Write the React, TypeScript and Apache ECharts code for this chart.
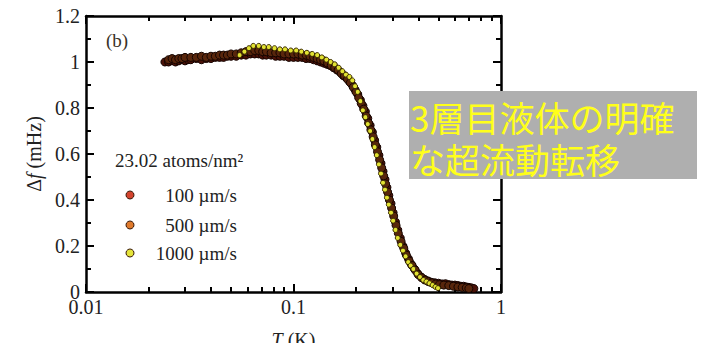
import React, { useEffect, useRef } from "react";
import * as echarts from "echarts";

// ---- data (T in K, Δf in mHz) ----
const series100: [number, number][] = [
  [0.024, 1.0], [0.025, 1.0], [0.026, 1.005], [0.027, 1.0], [0.028, 1.005], [0.029, 1.01], [0.030, 1.005],
  [0.031, 1.01], [0.032, 1.01], [0.034, 1.015], [0.036, 1.01], [0.038, 1.015], [0.040, 1.015], [0.042, 1.02],
  [0.044, 1.02], [0.046, 1.02], [0.048, 1.025], [0.050, 1.025], [0.053, 1.025], [0.056, 1.03], [0.059, 1.03],
  [0.062, 1.035], [0.065, 1.035], [0.068, 1.035], [0.071, 1.03], [0.074, 1.03], [0.078, 1.03], [0.082, 1.025],
  [0.086, 1.025], [0.090, 1.025], [0.095, 1.02], [0.100, 1.02], [0.105, 1.02], [0.110, 1.02], [0.115, 1.015],
  [0.120, 1.015], [0.125, 1.01], [0.130, 1.005], [0.135, 1.0], [0.140, 0.995], [0.145, 0.99], [0.150, 0.985],
  [0.156, 0.975], [0.162, 0.965], [0.168, 0.955], [0.174, 0.94], [0.180, 0.93], [0.186, 0.915], [0.192, 0.9],
  [0.198, 0.88], [0.204, 0.86], [0.210, 0.835], [0.216, 0.81], [0.222, 0.785], [0.228, 0.755], [0.234, 0.725],
  [0.240, 0.695], [0.246, 0.66], [0.252, 0.63], [0.258, 0.595], [0.264, 0.56], [0.270, 0.525], [0.276, 0.49],
  [0.282, 0.455], [0.288, 0.42], [0.295, 0.385], [0.302, 0.345], [0.310, 0.305], [0.318, 0.27], [0.327, 0.235],
  [0.337, 0.2], [0.347, 0.17], [0.358, 0.145], [0.370, 0.12], [0.383, 0.1], [0.397, 0.08], [0.412, 0.065],
  [0.428, 0.055], [0.445, 0.048], [0.462, 0.042], [0.480, 0.04], [0.50, 0.038], [0.52, 0.035], [0.54, 0.036],
  [0.56, 0.032], [0.58, 0.03], [0.60, 0.03], [0.62, 0.028], [0.64, 0.025], [0.66, 0.025], [0.68, 0.022],
  [0.70, 0.02], [0.72, 0.018], [0.74, 0.015],
];

const series500: [number, number][] = [
  [0.025, 1.01], [0.026, 1.015], [0.027, 1.01], [0.028, 1.015], [0.029, 1.015], [0.030, 1.02], [0.032, 1.02],
  [0.034, 1.02], [0.036, 1.025], [0.038, 1.02], [0.040, 1.025], [0.042, 1.025], [0.044, 1.03], [0.046, 1.03],
  [0.048, 1.03], [0.050, 1.035], [0.053, 1.035], [0.056, 1.04], [0.059, 1.045], [0.062, 1.045], [0.065, 1.05],
  [0.068, 1.05], [0.071, 1.045], [0.074, 1.045], [0.078, 1.04], [0.082, 1.04], [0.086, 1.04], [0.090, 1.035],
  [0.095, 1.035], [0.100, 1.035], [0.105, 1.035], [0.110, 1.03], [0.115, 1.03], [0.120, 1.025], [0.125, 1.02],
  [0.130, 1.015], [0.135, 1.01], [0.140, 1.005], [0.146, 0.995], [0.152, 0.985], [0.158, 0.975], [0.164, 0.965],
  [0.170, 0.95], [0.176, 0.94], [0.182, 0.925], [0.188, 0.91], [0.194, 0.89], [0.200, 0.87], [0.206, 0.845],
  [0.212, 0.82], [0.218, 0.795], [0.224, 0.765], [0.230, 0.735], [0.236, 0.705], [0.242, 0.675], [0.248, 0.64],
  [0.254, 0.61], [0.260, 0.575], [0.266, 0.54], [0.272, 0.505], [0.278, 0.47], [0.284, 0.435], [0.290, 0.4],
  [0.297, 0.365], [0.304, 0.33], [0.312, 0.29], [0.320, 0.255], [0.330, 0.22], [0.340, 0.19], [0.350, 0.16],
  [0.361, 0.135], [0.373, 0.115], [0.386, 0.095], [0.400, 0.075], [0.415, 0.062], [0.430, 0.052], [0.447, 0.045],
  [0.465, 0.04], [0.485, 0.035], [0.505, 0.032], [0.53, 0.03], [0.56, 0.028], [0.59, 0.025], [0.62, 0.022],
  [0.65, 0.02], [0.68, 0.018], [0.70, 0.015],
];

const series1000: [number, number][] = [
  [0.055, 1.03], [0.058, 1.045], [0.061, 1.06], [0.064, 1.07], [0.068, 1.07], [0.072, 1.065], [0.076, 1.065],
  [0.081, 1.06], [0.086, 1.055], [0.091, 1.055], [0.097, 1.05], [0.103, 1.05], [0.109, 1.045], [0.116, 1.04],
  [0.123, 1.035], [0.130, 1.03], [0.137, 1.02], [0.144, 1.01], [0.151, 1.0], [0.158, 0.99], [0.165, 0.975],
  [0.172, 0.96], [0.179, 0.945], [0.186, 0.935], [0.192, 0.92], [0.198, 0.895], [0.204, 0.87], [0.210, 0.83],
  [0.216, 0.79], [0.222, 0.76], [0.228, 0.73], [0.234, 0.7], [0.240, 0.665], [0.246, 0.63], [0.252, 0.595],
  [0.258, 0.555], [0.264, 0.515], [0.270, 0.475], [0.276, 0.445], [0.282, 0.41], [0.288, 0.38], [0.295, 0.345],
  [0.302, 0.31], [0.310, 0.27], [0.318, 0.235], [0.327, 0.205], [0.337, 0.18], [0.347, 0.155], [0.357, 0.13],
  [0.367, 0.115], [0.378, 0.1], [0.392, 0.08], [0.407, 0.065], [0.422, 0.052], [0.437, 0.045], [0.452, 0.038],
  [0.468, 0.03], [0.483, 0.022], [0.497, 0.017],
];

const seriesNames = ["100 µm/s", "500 µm/s", "1000 µm/s"];
const legendTitle = "23.02 atoms/nm²";
const xMinorTicks = [0.02, 0.03, 0.04, 0.05, 0.06, 0.07, 0.08, 0.09, 0.2, 0.3, 0.4, 0.5, 0.6, 0.7, 0.8, 0.9];
const annotationLines = ["3層目液体の明確", "な超流動転移"];

const SERIF = "Liberation Serif";

export default function App() {
  const ref = useRef<HTMLDivElement>(null);
  useEffect(() => {
    document.body.style.margin = "0";
    if (!ref.current) return;
    const chart = echarts.init(ref.current, undefined, { renderer: "svg" });

    const axisLine = { show: true, lineStyle: { color: "#000", width: 2.5 } };
    const tickStyle = { color: "#000", width: 2 };
    const xCommon = { type: "log" as const, logBase: 10, min: 0.01, max: 1, splitLine: { show: false } };
    const yCommon = {
      type: "value" as const, min: 0, max: 1.2, interval: 0.2,
      splitLine: { show: false },
      axisTick: { show: true, inside: true, length: 8, lineStyle: tickStyle },
      minorTick: { show: true, splitNumber: 2, length: 5, lineStyle: tickStyle },
      minorSplitLine: { show: false },
      axisLine,
    };

    const mk = (name: string, data: [number, number][], fill: string, size: number, border: string) => ({
      name, type: "scatter", data, symbol: "circle", symbolSize: size,
      itemStyle: { color: fill, borderColor: border, borderWidth: 1, opacity: 1 },
      xAxisIndex: 0, yAxisIndex: 0,
    });

    const legendColors = ["#d4432e", "#e07a2c", "#e4e43a"];
    const legendY = [195, 225, 253];

    chart.setOption({
      animation: false,
      textStyle: { fontFamily: SERIF },
      grid: { left: 86, right: 200, top: 16, bottom: 51, containLabel: false, outerBoundsMode: "none" },
      xAxis: [
        {
          ...xCommon, position: "bottom", axisLine,
          axisTick: { show: true, inside: true, length: 8, lineStyle: tickStyle },
          axisLabel: { show: true, color: "#222", fontFamily: SERIF, fontSize: 20, margin: 5 },
          name: "{i|T}{d| (K)}", nameLocation: "middle", nameGap: 38,
          nameTextStyle: {
            rich: {
              i: { fontFamily: SERIF, fontSize: 20, fontStyle: "italic", color: "#222" },
              d: { fontFamily: SERIF, fontSize: 20, color: "#222" },
            },
          },
        },
        {
          ...xCommon, position: "bottom", axisLine: { show: false },
          axisTick: { show: true, inside: true, length: 5, lineStyle: tickStyle, customValues: xMinorTicks },
          axisLabel: { show: false },
        },
        {
          ...xCommon, position: "top", axisLine,
          axisTick: { show: true, inside: true, length: 8, lineStyle: tickStyle },
          axisLabel: { show: false },
        },
        {
          ...xCommon, position: "top", axisLine: { show: false },
          axisTick: { show: true, inside: true, length: 5, lineStyle: tickStyle, customValues: xMinorTicks },
          axisLabel: { show: false },
        },
      ],
      yAxis: [
        {
          ...yCommon, position: "left",
          axisLabel: { show: true, color: "#222", fontFamily: SERIF, fontSize: 20, margin: 6 },
          name: "{d|Δ}{i|f}{d| (mHz)}", nameLocation: "middle", nameGap: 39,
          nameTextStyle: {
            rich: {
              i: { fontFamily: SERIF, fontSize: 20, fontStyle: "italic", color: "#222" },
              d: { fontFamily: SERIF, fontSize: 20, color: "#222" },
            },
          },
        },
        { ...yCommon, position: "right", axisLabel: { show: false } },
      ],
      series: [
        mk(seriesNames[0], series100, "#4a1208", 8, "#140300"),
        mk(seriesNames[1], series500, "#58260c", 8, "#140400"),
        mk(seriesNames[2], series1000, "#e2e232", 5, "#3a2a00"),
      ],
      graphic: [
        { type: "text", left: 106, top: 31, style: { text: "(b)", font: `19px "${SERIF}"`, fill: "#3a3228" }, z: 10 },
        { type: "text", left: 115, top: 151, style: { text: legendTitle, font: `19px "${SERIF}"`, fill: "#222" }, z: 10 },
        ...seriesNames.map((n, i) => ({
          type: "circle", shape: { cx: 130, cy: legendY[i], r: 4 },
          style: { fill: legendColors[i], stroke: "#3a1a0a", lineWidth: 1 }, z: 10,
        })),
        ...seriesNames.map((n, i) => ({
          type: "text", x: 237, y: legendY[i],
          style: { text: n, font: `19px "${SERIF}"`, fill: "#222", align: "right", verticalAlign: "middle" }, z: 10,
        })),
        {
          type: "rect", shape: { x: 409, y: 91, width: 288, height: 88 },
          style: { fill: "#afafaf" }, z: 20,
        },
        ...annotationLines.map((t, i) => ({
          type: "text", x: 410, y: 116 + i * 42,
          style: {
            text: t, font: `35px "Noto Sans CJK JP"`, fill: "#ffff1a",
            align: "left", verticalAlign: "middle",
          },
          z: 21,
        })),
      ],
    });
    return () => chart.dispose();
  }, []);
  return <div ref={ref} style={{ width: 701, height: 343 }} />;
}
